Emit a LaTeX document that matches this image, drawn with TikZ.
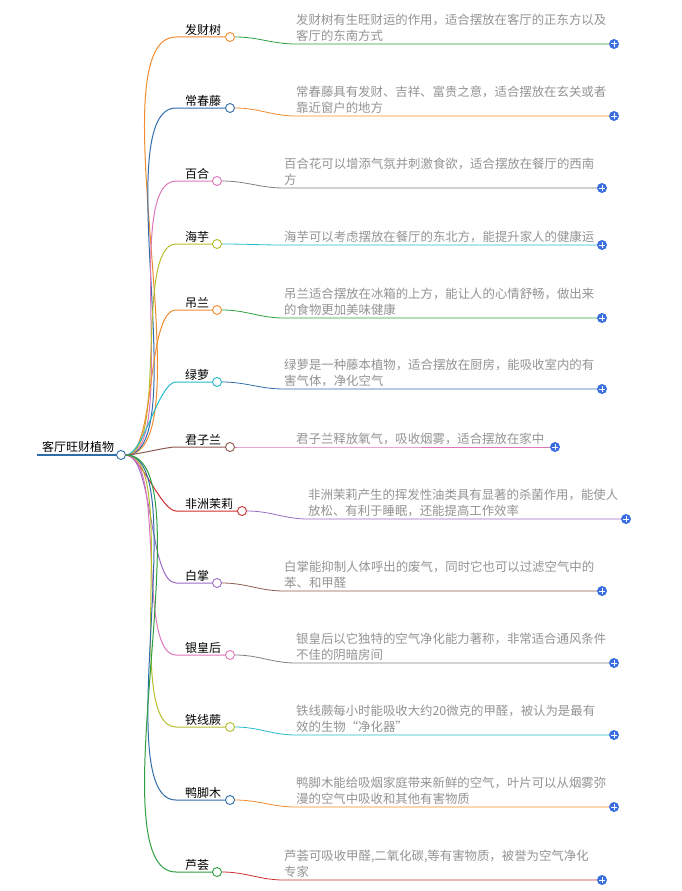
\documentclass[tikz,border=0pt]{standalone}
\usepackage{fontspec}
\setmainfont{Noto Sans CJK SC}
\usetikzlibrary{calc}
\definecolor{cOr}{HTML}{F08C2E}
\definecolor{cBl}{HTML}{2F6DAA}
\definecolor{cPk}{HTML}{DD77BB}
\definecolor{cOl}{HTML}{B5BD2A}
\definecolor{cCy}{HTML}{22BBCC}
\definecolor{cBr}{HTML}{8C5A4E}
\definecolor{cRd}{HTML}{CC2E2E}
\definecolor{cPu}{HTML}{9A6BC4}
\definecolor{cGn}{HTML}{2E9E3E}
\definecolor{cGy}{HTML}{808080}
\definecolor{cPl}{HTML}{3B6FE0}
\tikzset{
  knob/.style={circle, draw=#1, fill=white, line width=0.9pt, inner sep=0pt, minimum size=9pt},
  plant/.style={font=\fontsize{12}{14}\selectfont, anchor=south west, inner sep=1pt},
  note/.style={font=\fontsize{12.4}{16}\selectfont, text=gray!85, align=left, anchor=south west, inner sep=0pt},
  plus/.style={circle, fill=cPl, inner sep=0pt, minimum size=10pt}
}
\newcommand{\plusmark}[1]{\draw[white, line width=1pt] ($(#1)+(-2.6,0)$) -- ($(#1)+(2.6,0)$) ($(#1)+(0,-2.6)$) -- ($(#1)+(0,2.6)$);}
\begin{document}
\begin{tikzpicture}[x=1pt, y=-1pt]
\useasboundingbox (0,0) rectangle (682,891);
% root
\draw[cBl, line width=2.4pt] (37,455) -- (117,455);
\node[font=\fontsize{12}{14}\selectfont, anchor=south west, inner sep=1pt] (root) at (41,454) {客厅旺财植物};
\node[knob=cBl] (hub) at (121,455) {};
% branches: name / knob x / knob y / branch colour / line colour / end x / end y / text x / text
\foreach \nm/\kx/\ky/\bc/\lc/\ex/\ey/\tx/\txt [count=\i] in {
  发财树/230/37/cOr/cGn/614/44/296/{发财树有生旺财运的作用，适合摆放在客厅的正东方以及\\客厅的东南方式},
  常春藤/230/108/cBl/cOr/614/116/296/{常春藤具有发财、吉祥、富贵之意，适合摆放在玄关或者\\靠近窗户的地方},
  百合/217/181/cPk/cGy/602/188/284/{百合花可以增添气氛并刺激食欲，适合摆放在餐厅的西南\\方},
  海芋/217/244/cOl/cCy/602/245/284/{海芋可以考虑摆放在餐厅的东北方，能提升家人的健康运},
  吊兰/217/310/cOr/cGn/602/318/284/{吊兰适合摆放在冰箱的上方，能让人的心情舒畅，做出来\\的食物更加美味健康},
  绿萝/217/382/cCy/cBl/602/389/284/{绿萝是一种藤本植物，适合摆放在厨房，能吸收室内的有\\害气体，净化空气},
  君子兰/230/447/cBr/cPk/555/447/296/{君子兰释放氧气，吸收烟雾，适合摆放在家中},
  非洲茉莉/242/511/cRd/cPu/626/519/308/{非洲茉莉产生的挥发性油类具有显著的杀菌作用，能使人\\放松、有利于睡眠，还能提高工作效率},
  白掌/217/583/cPu/cBr/602/591/284/{白掌能抑制人体呼出的废气，同时它也可以过滤空气中的\\苯、和甲醛},
  银皇后/230/655/cPk/cGy/614/663/296/{银皇后以它独特的空气净化能力著称，非常适合通风条件\\不佳的阴暗房间},
  铁线蕨/230/727/cOl/cCy/614/735/296/{铁线蕨每小时能吸收大约20微克的甲醛，被认为是最有\\效的生物“净化器”},
  鸭脚木/230/800/cBl/cOr/614/807/296/{鸭脚木能给吸烟家庭带来新鲜的空气，叶片可以从烟雾弥\\漫的空气中吸收和其他有害物质},
  芦荟/217/872/cGn/cRd/602/880/284/{芦荟可吸收甲醛,二氧化碳,等有害物质，被誉为空气净化\\专家}} {
  \coordinate (s\i) at (182,\ky);
  \draw[\bc, line width=1pt] (hub) to[out=0, in=180, looseness=0.5] ($(s\i)+(-6,0)$) -- (\kx-4.5,\ky);
  \node[plant] (n\i) at (184,\ky) {\nm};
  \node[knob=\bc] (k\i) at (\kx,\ky) {};
  \coordinate (t\i) at (\tx,\ey);
  \draw[\lc, line width=0.8pt] (k\i) to[out=0, in=180] (t\i) -- (\ex-5,\ey);
  \node[note] (d\i) at (\tx,\ey-2) {\txt};
  \node[plus] (p\i) at (\ex,\ey) {};
  \plusmark{p\i}
}
\end{tikzpicture}
\end{document}
